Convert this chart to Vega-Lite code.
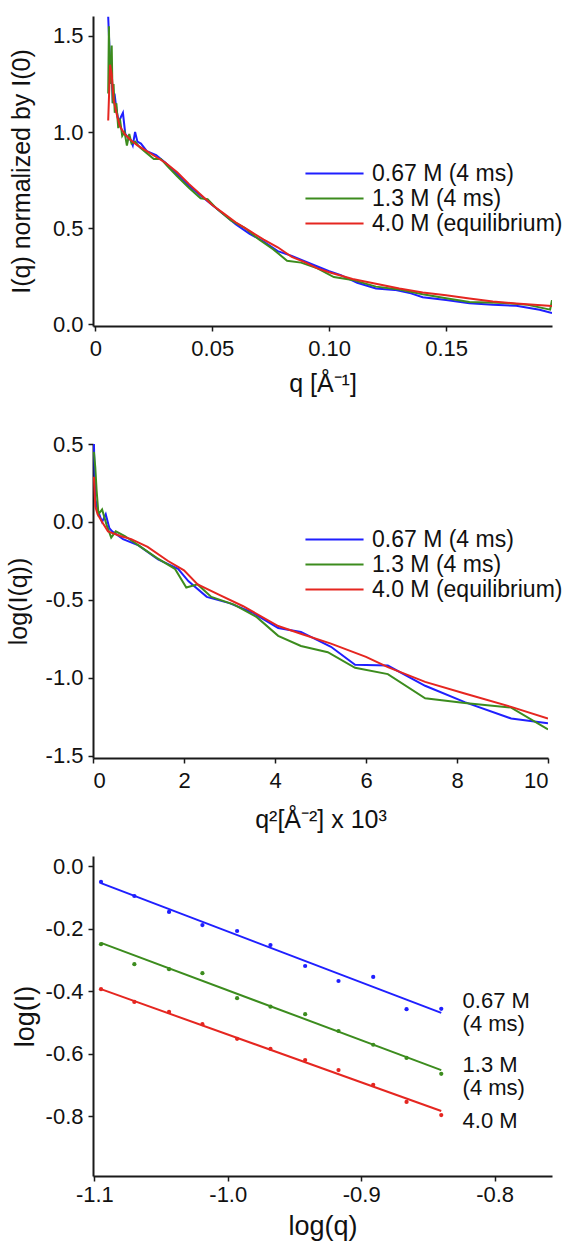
{
  "$schema": "https://vega.github.io/schema/vega-lite/v6.json",
  "padding": {"left": 6, "top": 16, "right": 5, "bottom": 5},
  "background": "white",
  "config": {
    "view": {"stroke": null},
    "font": "Liberation Sans",
    "axis": {
      "domainColor": "#1a1a1a", "domainWidth": 2, "tickColor": "#1a1a1a", "tickWidth": 1.5, "tickSize": 5,
      "labelFont": "Liberation Sans", "labelFontSize": 22, "labelColor": "#111",
      "titleFont": "Liberation Sans", "titleFontSize": 25, "titleFontWeight": "normal", "titleColor": "#111",
      "grid": false
    },
    "axisX": {"labelPadding": 7, "titlePadding": 12},
    "axisY": {"labelPadding": 5, "titlePadding": 16},
    "legend": {"labelFont": "Liberation Sans", "labelFontSize": 23, "labelColor": "#111", "padding": 0, "labelLimit": 400}
  },
  "datasets": {
    "top": [
      {"series": "0.67 M (4 ms)", "q": 0.0055, "I": 1.60},
      {"series": "0.67 M (4 ms)", "q": 0.0060, "I": 1.45},
      {"series": "0.67 M (4 ms)", "q": 0.0065, "I": 1.25},
      {"series": "0.67 M (4 ms)", "q": 0.0070, "I": 1.30},
      {"series": "0.67 M (4 ms)", "q": 0.0075, "I": 1.15},
      {"series": "0.67 M (4 ms)", "q": 0.0082, "I": 1.20},
      {"series": "0.67 M (4 ms)", "q": 0.0090, "I": 1.12},
      {"series": "0.67 M (4 ms)", "q": 0.0100, "I": 1.05},
      {"series": "0.67 M (4 ms)", "q": 0.0110, "I": 1.08},
      {"series": "0.67 M (4 ms)", "q": 0.0118, "I": 1.10},
      {"series": "0.67 M (4 ms)", "q": 0.0128, "I": 0.99},
      {"series": "0.67 M (4 ms)", "q": 0.0140, "I": 0.97},
      {"series": "0.67 M (4 ms)", "q": 0.0150, "I": 0.96},
      {"series": "0.67 M (4 ms)", "q": 0.0160, "I": 0.93},
      {"series": "0.67 M (4 ms)", "q": 0.0170, "I": 1.00},
      {"series": "0.67 M (4 ms)", "q": 0.0180, "I": 0.95},
      {"series": "0.67 M (4 ms)", "q": 0.0195, "I": 0.94},
      {"series": "0.67 M (4 ms)", "q": 0.022, "I": 0.90},
      {"series": "0.67 M (4 ms)", "q": 0.026, "I": 0.88},
      {"series": "0.67 M (4 ms)", "q": 0.030, "I": 0.84},
      {"series": "0.67 M (4 ms)", "q": 0.035, "I": 0.78},
      {"series": "0.67 M (4 ms)", "q": 0.040, "I": 0.72},
      {"series": "0.67 M (4 ms)", "q": 0.045, "I": 0.67},
      {"series": "0.67 M (4 ms)", "q": 0.050, "I": 0.62},
      {"series": "0.67 M (4 ms)", "q": 0.055, "I": 0.57},
      {"series": "0.67 M (4 ms)", "q": 0.060, "I": 0.52},
      {"series": "0.67 M (4 ms)", "q": 0.066, "I": 0.47},
      {"series": "0.67 M (4 ms)", "q": 0.072, "I": 0.43},
      {"series": "0.67 M (4 ms)", "q": 0.078, "I": 0.38},
      {"series": "0.67 M (4 ms)", "q": 0.084, "I": 0.355},
      {"series": "0.67 M (4 ms)", "q": 0.090, "I": 0.325},
      {"series": "0.67 M (4 ms)", "q": 0.095, "I": 0.30},
      {"series": "0.67 M (4 ms)", "q": 0.100, "I": 0.275},
      {"series": "0.67 M (4 ms)", "q": 0.105, "I": 0.255},
      {"series": "0.67 M (4 ms)", "q": 0.112, "I": 0.215},
      {"series": "0.67 M (4 ms)", "q": 0.120, "I": 0.185},
      {"series": "0.67 M (4 ms)", "q": 0.128, "I": 0.178},
      {"series": "0.67 M (4 ms)", "q": 0.135, "I": 0.16},
      {"series": "0.67 M (4 ms)", "q": 0.140, "I": 0.14},
      {"series": "0.67 M (4 ms)", "q": 0.150, "I": 0.125},
      {"series": "0.67 M (4 ms)", "q": 0.160, "I": 0.108},
      {"series": "0.67 M (4 ms)", "q": 0.170, "I": 0.10},
      {"series": "0.67 M (4 ms)", "q": 0.180, "I": 0.095},
      {"series": "0.67 M (4 ms)", "q": 0.190, "I": 0.075},
      {"series": "0.67 M (4 ms)", "q": 0.1953, "I": 0.057},

      {"series": "1.3 M (4 ms)", "q": 0.0055, "I": 1.20},
      {"series": "1.3 M (4 ms)", "q": 0.0058, "I": 1.55},
      {"series": "1.3 M (4 ms)", "q": 0.0062, "I": 1.25},
      {"series": "1.3 M (4 ms)", "q": 0.0066, "I": 1.30},
      {"series": "1.3 M (4 ms)", "q": 0.0070, "I": 1.45},
      {"series": "1.3 M (4 ms)", "q": 0.0074, "I": 1.15},
      {"series": "1.3 M (4 ms)", "q": 0.0078, "I": 1.25},
      {"series": "1.3 M (4 ms)", "q": 0.0083, "I": 1.10},
      {"series": "1.3 M (4 ms)", "q": 0.0090, "I": 1.15},
      {"series": "1.3 M (4 ms)", "q": 0.0098, "I": 1.02},
      {"series": "1.3 M (4 ms)", "q": 0.0105, "I": 1.07},
      {"series": "1.3 M (4 ms)", "q": 0.0115, "I": 0.98},
      {"series": "1.3 M (4 ms)", "q": 0.0125, "I": 1.00},
      {"series": "1.3 M (4 ms)", "q": 0.0135, "I": 0.93},
      {"series": "1.3 M (4 ms)", "q": 0.0145, "I": 0.99},
      {"series": "1.3 M (4 ms)", "q": 0.0155, "I": 0.94},
      {"series": "1.3 M (4 ms)", "q": 0.0170, "I": 0.95},
      {"series": "1.3 M (4 ms)", "q": 0.0190, "I": 0.92},
      {"series": "1.3 M (4 ms)", "q": 0.022, "I": 0.89},
      {"series": "1.3 M (4 ms)", "q": 0.025, "I": 0.86},
      {"series": "1.3 M (4 ms)", "q": 0.028, "I": 0.86},
      {"series": "1.3 M (4 ms)", "q": 0.031, "I": 0.82},
      {"series": "1.3 M (4 ms)", "q": 0.035, "I": 0.77},
      {"series": "1.3 M (4 ms)", "q": 0.040, "I": 0.71},
      {"series": "1.3 M (4 ms)", "q": 0.045, "I": 0.655},
      {"series": "1.3 M (4 ms)", "q": 0.048, "I": 0.65},
      {"series": "1.3 M (4 ms)", "q": 0.052, "I": 0.60},
      {"series": "1.3 M (4 ms)", "q": 0.058, "I": 0.54},
      {"series": "1.3 M (4 ms)", "q": 0.064, "I": 0.50},
      {"series": "1.3 M (4 ms)", "q": 0.070, "I": 0.44},
      {"series": "1.3 M (4 ms)", "q": 0.076, "I": 0.39},
      {"series": "1.3 M (4 ms)", "q": 0.082, "I": 0.33},
      {"series": "1.3 M (4 ms)", "q": 0.088, "I": 0.32},
      {"series": "1.3 M (4 ms)", "q": 0.095, "I": 0.29},
      {"series": "1.3 M (4 ms)", "q": 0.102, "I": 0.245},
      {"series": "1.3 M (4 ms)", "q": 0.110, "I": 0.23},
      {"series": "1.3 M (4 ms)", "q": 0.120, "I": 0.195},
      {"series": "1.3 M (4 ms)", "q": 0.130, "I": 0.18},
      {"series": "1.3 M (4 ms)", "q": 0.140, "I": 0.155},
      {"series": "1.3 M (4 ms)", "q": 0.150, "I": 0.135},
      {"series": "1.3 M (4 ms)", "q": 0.160, "I": 0.115},
      {"series": "1.3 M (4 ms)", "q": 0.175, "I": 0.11},
      {"series": "1.3 M (4 ms)", "q": 0.185, "I": 0.10},
      {"series": "1.3 M (4 ms)", "q": 0.1945, "I": 0.075},
      {"series": "1.3 M (4 ms)", "q": 0.1953, "I": 0.125},

      {"series": "4.0 M (equilibrium)", "q": 0.0055, "I": 1.06},
      {"series": "4.0 M (equilibrium)", "q": 0.0063, "I": 1.35},
      {"series": "4.0 M (equilibrium)", "q": 0.0070, "I": 1.30},
      {"series": "4.0 M (equilibrium)", "q": 0.0078, "I": 1.17},
      {"series": "4.0 M (equilibrium)", "q": 0.0090, "I": 1.10},
      {"series": "4.0 M (equilibrium)", "q": 0.0105, "I": 1.03},
      {"series": "4.0 M (equilibrium)", "q": 0.0125, "I": 0.99},
      {"series": "4.0 M (equilibrium)", "q": 0.015, "I": 0.96},
      {"series": "4.0 M (equilibrium)", "q": 0.018, "I": 0.93},
      {"series": "4.0 M (equilibrium)", "q": 0.022, "I": 0.90},
      {"series": "4.0 M (equilibrium)", "q": 0.026, "I": 0.87},
      {"series": "4.0 M (equilibrium)", "q": 0.030, "I": 0.84},
      {"series": "4.0 M (equilibrium)", "q": 0.035, "I": 0.79},
      {"series": "4.0 M (equilibrium)", "q": 0.040, "I": 0.73},
      {"series": "4.0 M (equilibrium)", "q": 0.045, "I": 0.675},
      {"series": "4.0 M (equilibrium)", "q": 0.050, "I": 0.62},
      {"series": "4.0 M (equilibrium)", "q": 0.055, "I": 0.575},
      {"series": "4.0 M (equilibrium)", "q": 0.060, "I": 0.53},
      {"series": "4.0 M (equilibrium)", "q": 0.066, "I": 0.485},
      {"series": "4.0 M (equilibrium)", "q": 0.072, "I": 0.44},
      {"series": "4.0 M (equilibrium)", "q": 0.078, "I": 0.40},
      {"series": "4.0 M (equilibrium)", "q": 0.084, "I": 0.35},
      {"series": "4.0 M (equilibrium)", "q": 0.090, "I": 0.32},
      {"series": "4.0 M (equilibrium)", "q": 0.095, "I": 0.29},
      {"series": "4.0 M (equilibrium)", "q": 0.100, "I": 0.27},
      {"series": "4.0 M (equilibrium)", "q": 0.110, "I": 0.235},
      {"series": "4.0 M (equilibrium)", "q": 0.120, "I": 0.21},
      {"series": "4.0 M (equilibrium)", "q": 0.130, "I": 0.185},
      {"series": "4.0 M (equilibrium)", "q": 0.140, "I": 0.165},
      {"series": "4.0 M (equilibrium)", "q": 0.150, "I": 0.15},
      {"series": "4.0 M (equilibrium)", "q": 0.160, "I": 0.133},
      {"series": "4.0 M (equilibrium)", "q": 0.170, "I": 0.118},
      {"series": "4.0 M (equilibrium)", "q": 0.180, "I": 0.107},
      {"series": "4.0 M (equilibrium)", "q": 0.1953, "I": 0.094}
    ],
    "mid": [
      {"series": "0.67 M (4 ms)", "x": 0.02, "y": 0.5},
      {"series": "0.67 M (4 ms)", "x": 0.05, "y": 0.15},
      {"series": "0.67 M (4 ms)", "x": 0.1, "y": 0.08},
      {"series": "0.67 M (4 ms)", "x": 0.2, "y": 0.0},
      {"series": "0.67 M (4 ms)", "x": 0.28, "y": 0.05},
      {"series": "0.67 M (4 ms)", "x": 0.36, "y": -0.04},
      {"series": "0.67 M (4 ms)", "x": 0.42, "y": -0.06},
      {"series": "0.67 M (4 ms)", "x": 0.66, "y": -0.11},
      {"series": "0.67 M (4 ms)", "x": 1.0, "y": -0.15},
      {"series": "0.67 M (4 ms)", "x": 1.43, "y": -0.24},
      {"series": "0.67 M (4 ms)", "x": 1.87, "y": -0.30},
      {"series": "0.67 M (4 ms)", "x": 2.1, "y": -0.38},
      {"series": "0.67 M (4 ms)", "x": 2.5, "y": -0.48},
      {"series": "0.67 M (4 ms)", "x": 3.0, "y": -0.52},
      {"series": "0.67 M (4 ms)", "x": 3.5, "y": -0.58},
      {"series": "0.67 M (4 ms)", "x": 4.07, "y": -0.68},
      {"series": "0.67 M (4 ms)", "x": 4.57, "y": -0.705},
      {"series": "0.67 M (4 ms)", "x": 5.23, "y": -0.80},
      {"series": "0.67 M (4 ms)", "x": 5.76, "y": -0.915},
      {"series": "0.67 M (4 ms)", "x": 6.48, "y": -0.92},
      {"series": "0.67 M (4 ms)", "x": 7.3, "y": -1.05},
      {"series": "0.67 M (4 ms)", "x": 8.17, "y": -1.155},
      {"series": "0.67 M (4 ms)", "x": 9.19, "y": -1.26},
      {"series": "0.67 M (4 ms)", "x": 10, "y": -1.29},

      {"series": "1.3 M (4 ms)", "x": 0.02, "y": 0.45},
      {"series": "1.3 M (4 ms)", "x": 0.05, "y": 0.35},
      {"series": "1.3 M (4 ms)", "x": 0.08, "y": 0.2},
      {"series": "1.3 M (4 ms)", "x": 0.12, "y": 0.05},
      {"series": "1.3 M (4 ms)", "x": 0.2, "y": 0.08},
      {"series": "1.3 M (4 ms)", "x": 0.3, "y": -0.02},
      {"series": "1.3 M (4 ms)", "x": 0.4, "y": -0.1},
      {"series": "1.3 M (4 ms)", "x": 0.5, "y": -0.06},
      {"series": "1.3 M (4 ms)", "x": 0.7, "y": -0.09},
      {"series": "1.3 M (4 ms)", "x": 1.0, "y": -0.15},
      {"series": "1.3 M (4 ms)", "x": 1.4, "y": -0.23},
      {"series": "1.3 M (4 ms)", "x": 1.8, "y": -0.30},
      {"series": "1.3 M (4 ms)", "x": 2.05, "y": -0.42},
      {"series": "1.3 M (4 ms)", "x": 2.3, "y": -0.40},
      {"series": "1.3 M (4 ms)", "x": 2.6, "y": -0.48},
      {"series": "1.3 M (4 ms)", "x": 3.1, "y": -0.53},
      {"series": "1.3 M (4 ms)", "x": 3.6, "y": -0.61},
      {"series": "1.3 M (4 ms)", "x": 4.07, "y": -0.73},
      {"series": "1.3 M (4 ms)", "x": 4.57, "y": -0.795},
      {"series": "1.3 M (4 ms)", "x": 5.16, "y": -0.835},
      {"series": "1.3 M (4 ms)", "x": 5.76, "y": -0.935},
      {"series": "1.3 M (4 ms)", "x": 6.48, "y": -0.975},
      {"series": "1.3 M (4 ms)", "x": 7.3, "y": -1.13},
      {"series": "1.3 M (4 ms)", "x": 8.17, "y": -1.16},
      {"series": "1.3 M (4 ms)", "x": 9.19, "y": -1.19},
      {"series": "1.3 M (4 ms)", "x": 10, "y": -1.33},

      {"series": "4.0 M (equilibrium)", "x": 0.02, "y": 0.29},
      {"series": "4.0 M (equilibrium)", "x": 0.05, "y": 0.10},
      {"series": "4.0 M (equilibrium)", "x": 0.1, "y": 0.05},
      {"series": "4.0 M (equilibrium)", "x": 0.2, "y": 0.0},
      {"series": "4.0 M (equilibrium)", "x": 0.33, "y": -0.06},
      {"series": "4.0 M (equilibrium)", "x": 0.6, "y": -0.09},
      {"series": "4.0 M (equilibrium)", "x": 0.84, "y": -0.11},
      {"series": "4.0 M (equilibrium)", "x": 1.2, "y": -0.16},
      {"series": "4.0 M (equilibrium)", "x": 1.65, "y": -0.25},
      {"series": "4.0 M (equilibrium)", "x": 2.0, "y": -0.31},
      {"series": "4.0 M (equilibrium)", "x": 2.3, "y": -0.40},
      {"series": "4.0 M (equilibrium)", "x": 2.8, "y": -0.47},
      {"series": "4.0 M (equilibrium)", "x": 3.3, "y": -0.54},
      {"series": "4.0 M (equilibrium)", "x": 4.07, "y": -0.667},
      {"series": "4.0 M (equilibrium)", "x": 4.6, "y": -0.72},
      {"series": "4.0 M (equilibrium)", "x": 5.23, "y": -0.78},
      {"series": "4.0 M (equilibrium)", "x": 6.0, "y": -0.865},
      {"series": "4.0 M (equilibrium)", "x": 6.48, "y": -0.93},
      {"series": "4.0 M (equilibrium)", "x": 7.3, "y": -1.025},
      {"series": "4.0 M (equilibrium)", "x": 8.17, "y": -1.10},
      {"series": "4.0 M (equilibrium)", "x": 9.19, "y": -1.185},
      {"series": "4.0 M (equilibrium)", "x": 10, "y": -1.26}
    ],
    "pts": [
      {"series": "0.67 M (4 ms)", "lq": -1.095, "lI": -0.051},
      {"series": "0.67 M (4 ms)", "lq": -1.070, "lI": -0.096},
      {"series": "0.67 M (4 ms)", "lq": -1.044, "lI": -0.147},
      {"series": "0.67 M (4 ms)", "lq": -1.019, "lI": -0.189},
      {"series": "0.67 M (4 ms)", "lq": -0.993, "lI": -0.208},
      {"series": "0.67 M (4 ms)", "lq": -0.968, "lI": -0.253},
      {"series": "0.67 M (4 ms)", "lq": -0.942, "lI": -0.32},
      {"series": "0.67 M (4 ms)", "lq": -0.917, "lI": -0.368},
      {"series": "0.67 M (4 ms)", "lq": -0.891, "lI": -0.355},
      {"series": "0.67 M (4 ms)", "lq": -0.866, "lI": -0.458},
      {"series": "0.67 M (4 ms)", "lq": -0.840, "lI": -0.457},
      {"series": "1.3 M (4 ms)", "lq": -1.095, "lI": -0.25},
      {"series": "1.3 M (4 ms)", "lq": -1.070, "lI": -0.314},
      {"series": "1.3 M (4 ms)", "lq": -1.044, "lI": -0.33},
      {"series": "1.3 M (4 ms)", "lq": -1.019, "lI": -0.343},
      {"series": "1.3 M (4 ms)", "lq": -0.993, "lI": -0.423},
      {"series": "1.3 M (4 ms)", "lq": -0.968, "lI": -0.45},
      {"series": "1.3 M (4 ms)", "lq": -0.942, "lI": -0.474},
      {"series": "1.3 M (4 ms)", "lq": -0.917, "lI": -0.528},
      {"series": "1.3 M (4 ms)", "lq": -0.891, "lI": -0.572},
      {"series": "1.3 M (4 ms)", "lq": -0.866, "lI": -0.614},
      {"series": "1.3 M (4 ms)", "lq": -0.840, "lI": -0.665},
      {"series": "4.0 M (equilibrium)", "lq": -1.095, "lI": -0.394},
      {"series": "4.0 M (equilibrium)", "lq": -1.070, "lI": -0.435},
      {"series": "4.0 M (equilibrium)", "lq": -1.044, "lI": -0.467},
      {"series": "4.0 M (equilibrium)", "lq": -1.019, "lI": -0.506},
      {"series": "4.0 M (equilibrium)", "lq": -0.993, "lI": -0.553},
      {"series": "4.0 M (equilibrium)", "lq": -0.968, "lI": -0.585},
      {"series": "4.0 M (equilibrium)", "lq": -0.942, "lI": -0.621},
      {"series": "4.0 M (equilibrium)", "lq": -0.917, "lI": -0.653},
      {"series": "4.0 M (equilibrium)", "lq": -0.891, "lI": -0.70},
      {"series": "4.0 M (equilibrium)", "lq": -0.866, "lI": -0.755},
      {"series": "4.0 M (equilibrium)", "lq": -0.840, "lI": -0.797}
    ],
    "fit": [
      {"series": "0.67 M (4 ms)", "lq": -1.095, "lI": -0.055},
      {"series": "0.67 M (4 ms)", "lq": -0.840, "lI": -0.47},
      {"series": "1.3 M (4 ms)", "lq": -1.095, "lI": -0.246},
      {"series": "1.3 M (4 ms)", "lq": -0.840, "lI": -0.653},
      {"series": "4.0 M (equilibrium)", "lq": -1.095, "lI": -0.394},
      {"series": "4.0 M (equilibrium)", "lq": -0.840, "lI": -0.784}
    ],
    "labels": [
      {"text": "0.67 M", "lq": -0.824, "lI": -0.432},
      {"text": "(4 ms)", "lq": -0.824, "lI": -0.506},
      {"text": "1.3 M", "lq": -0.824, "lI": -0.637},
      {"text": "(4 ms)", "lq": -0.824, "lI": -0.71},
      {"text": "4.0 M", "lq": -0.824, "lI": -0.816}
    ]
  },
  "spacing": 37,
  "resolve": {"legend": {"color": "independent"}},
  "vconcat": [
    {
      "width": 459, "height": 310,
      "data": {"name": "top"},
      "mark": {"type": "line", "strokeWidth": 2, "clip": true},
      "encoding": {
        "x": {"field": "q", "type": "quantitative",
              "scale": {"domain": [-0.001, 0.1953], "nice": false, "zero": false},
              "axis": {"values": [0, 0.05, 0.1, 0.15], "labelExpr": "datum.value == 0 ? '0' : format(datum.value, '.2f')", "title": "q [Å⁻¹]"}},
        "y": {"field": "I", "type": "quantitative",
              "scale": {"domain": [-0.01, 1.604], "nice": false, "zero": false},
              "axis": {"values": [0, 0.5, 1, 1.5], "format": ".1f", "title": "I(q) normalized by I(0)", "titlePadding": 18}},
        "color": {"field": "series", "type": "nominal",
                  "scale": {"domain": ["0.67 M (4 ms)", "1.3 M (4 ms)", "4.0 M (equilibrium)"], "range": ["#1f1fff", "#3c8c1e", "#e52620"]},
                  "legend": {"orient": "none", "legendX": 230, "legendY": 146, "title": null, "symbolType": "M-5,0H5", "symbolSize": 135, "symbolStrokeWidth": 2, "rowPadding": 1, "labelOffset": 26}}
      }
    },
    {
      "spacing": 23,
      "resolve": {"legend": {"color": "independent"}},
      "vconcat": [
        {
          "width": 455, "height": 314,
          "data": {"name": "mid"},
          "mark": {"type": "line", "strokeWidth": 2, "clip": true},
          "encoding": {
            "x": {"field": "x", "type": "quantitative",
                  "scale": {"domain": [0, 10], "nice": false, "zero": false},
                  "axis": {"values": [0, 2, 4, 6, 8, 10], "format": "d", "title": "q²[Å⁻²] x 10³", "titlePadding": 16}},
            "y": {"field": "y", "type": "quantitative",
                  "scale": {"domain": [-1.513, 0.5], "nice": false, "zero": false},
                  "axis": {"values": [-1.5, -1, -0.5, 0, 0.5], "labelExpr": "replace(format(datum.value, '.1f'), '−', '-')", "title": "log(I(q))", "titlePadding": 14}},
            "color": {"field": "series", "type": "nominal",
                      "scale": {"domain": ["0.67 M (4 ms)", "1.3 M (4 ms)", "4.0 M (equilibrium)"], "range": ["#1f1fff", "#3c8c1e", "#e52620"]},
                      "legend": {"orient": "none", "legendX": 230, "legendY": 84, "title": null, "symbolType": "M-5,0H5", "symbolSize": 135, "symbolStrokeWidth": 2, "rowPadding": 1, "labelOffset": 26}}
          }
        },
        {
          "width": 459, "height": 320,
          "encoding": {
            "x": {"field": "lq", "type": "quantitative",
                  "scale": {"domain": [-1.101, -0.757], "nice": false, "zero": false},
                  "axis": {"values": [-1.1, -1.0, -0.9, -0.8], "labelExpr": "replace(format(datum.value, '.1f'), '−', '-')", "title": "log(q)", "labelPadding": 3, "titlePadding": 8, "titleFontSize": 27}},
            "y": {"field": "lI", "type": "quantitative",
                  "scale": {"domain": [-0.992, 0.032], "nice": false, "zero": false},
                  "axis": {"values": [0, -0.2, -0.4, -0.6, -0.8], "labelExpr": "replace(format(datum.value, '.1f'), '−', '-')", "title": "log(I)", "titlePadding": 6, "titleFontSize": 27}}
          },
          "layer": [
            {
              "data": {"name": "fit"},
              "mark": {"type": "line", "strokeWidth": 2},
              "encoding": {
                "color": {"field": "series", "type": "nominal", "legend": null,
                          "scale": {"domain": ["0.67 M (4 ms)", "1.3 M (4 ms)", "4.0 M (equilibrium)"], "range": ["#1f1fff", "#3c8c1e", "#e52620"]}}
              }
            },
            {
              "data": {"name": "pts"},
              "mark": {"type": "circle", "size": 18, "opacity": 1},
              "encoding": {
                "color": {"field": "series", "type": "nominal", "legend": null,
                          "scale": {"domain": ["0.67 M (4 ms)", "1.3 M (4 ms)", "4.0 M (equilibrium)"], "range": ["#1f1fff", "#3c8c1e", "#e52620"]}}
              }
            },
            {
              "data": {"name": "labels"},
              "mark": {"type": "text", "align": "left", "baseline": "middle", "fontSize": 22, "font": "Liberation Sans", "color": "#111"},
              "encoding": {"text": {"field": "text", "type": "nominal"}}
            }
          ]
        }
      ]
    }
  ]
}
